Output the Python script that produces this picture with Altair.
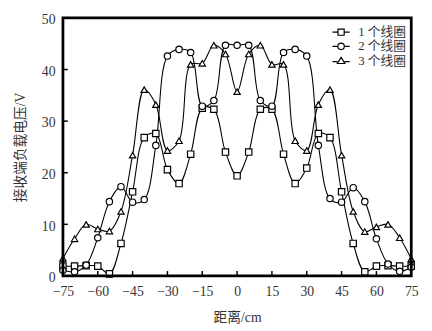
import altair as alt
import pandas as pd

x_pos = [-75, -70, -65, -60, -55, -50, -45, -40, -35, -30, -25, -20, -15, -10, -5, 0,
         5, 10, 15, 20, 25, 30, 35, 40, 45, 50, 55, 60, 65, 70, 75]
series_names = ["1 个线圈", "2 个线圈", "3 个线圈"]
s1 = [1.9, 1.9, 2.0, 1.9, 0.4, 6.3, 16.3, 26.8, 27.6, 20.6, 17.9, 23.6, 32.5, 32.3, 24.0, 19.4,
      24.0, 32.3, 32.3, 23.6, 17.9, 20.9, 27.6, 26.8, 16.3, 6.3, 0.8, 1.9, 2.0, 1.9, 1.9]
s2 = [1.1, 0.8, 2.1, 7.4, 14.4, 17.3, 14.3, 14.8, 25.3, 42.6, 43.9, 43.3, 32.9, 34.0, 44.7, 44.7,
      44.7, 34.0, 32.9, 43.3, 43.9, 42.6, 25.3, 15.0, 14.3, 17.1, 14.4, 7.2, 2.3, 0.9, 1.7]
s3 = [3.4, 7.2, 10.0, 9.1, 8.7, 12.5, 23.4, 36.1, 33.2, 24.3, 26.2, 41.0, 41.2, 44.7, 43.0, 35.7,
      43.0, 44.7, 41.0, 41.0, 26.2, 24.3, 33.2, 36.1, 23.4, 12.5, 8.6, 9.5, 10.0, 7.4, 3.3]
x_ticks = [-75, -60, -45, -30, -15, 0, 15, 30, 45, 60, 75]
y_ticks = [0, 10, 20, 30, 40, 50]
x_inner_ticks = [-60, -45, -30, -15, 0, 15, 30, 45, 60]
y_inner_ticks = [10, 20, 30, 40]

W, H = 355, 263
SERIF = "Liberation Serif, Noto Sans CJK SC"
TXT = "#333333"

df = pd.DataFrame({
    "x": x_pos * 3,
    "y": s1 + s2 + s3,
    "series": [series_names[0]] * len(s1) + [series_names[1]] * len(s2) + [series_names[2]] * len(s3),
})

xax = alt.Axis(values=x_ticks, title="距离/cm", ticks=False, domain=False, grid=False,
               labelFontSize=14, labelFont=SERIF, labelColor=TXT, labelPadding=9,
               titleFontSize=14, titleFont=SERIF, titleColor=TXT, titleFontWeight="normal",
               titlePadding=12, labelFlush=False)
yax = alt.Axis(values=y_ticks, title="接收端负载电压/V", ticks=False, domain=False, grid=False,
               labelFontSize=14, labelFont=SERIF, labelColor=TXT, labelPadding=8, labelOffset=2,
               titleFontSize=14, titleFont=SERIF, titleColor=TXT, titleFontWeight="normal",
               titlePadding=14, labelFlush=False)
xs = alt.Scale(domain=[-75, 75], nice=False, zero=False)
ys = alt.Scale(domain=[0, 50], nice=False)

X = alt.X("x:Q", scale=xs, axis=xax)
Y = alt.Y("y:Q", scale=ys, axis=yax)

base = alt.Chart(df)

lines = base.mark_line(interpolate="catmull-rom", color="black", strokeWidth=1.1).encode(
    x=X, y=Y, detail="series:N")

points = base.mark_point(filled=True, fill="white", stroke="black", strokeWidth=1.2,
                         size=42, opacity=1).encode(
    x=X, y=Y,
    shape=alt.Shape("series:N", scale=alt.Scale(domain=series_names,
                                                range=["square", "circle", "triangle-up"]),
                    legend=None))

legend_paths = [
    "M-2.5,0H-0.9M0.9,0H2.5M-0.9,-0.9H0.9V0.9H-0.9Z",
    "M-2.5,0H-0.95M0.95,0H2.5M-0.95,0A0.95,0.95 0 1,0 0.95,0A0.95,0.95 0 1,0 -0.95,0Z",
    "M-2.5,0.3H-1.05M1.05,0.3H2.5M0,-0.95L1.1,0.85L-1.1,0.85Z",
]
legend_layer = base.transform_filter("false").mark_point(filled=False).encode(
    x=X, y=Y,
    shape=alt.Shape("series:N", scale=alt.Scale(domain=series_names, range=legend_paths),
                    legend=alt.Legend(title=None, orient="none", legendX=277, legendY=8,
                                      symbolSize=49, symbolFillColor="white",
                                      symbolStrokeColor="black", symbolStrokeWidth=1.2,
                                      symbolOpacity=1, labelFont=SERIF, labelFontSize=13,
                                      labelColor=TXT, labelOffset=11, rowPadding=0.5)))

xt = alt.Chart(pd.DataFrame({"x": x_inner_ticks})).mark_rule(color="black", strokeWidth=1.5).encode(
    x=X, y=alt.value(H), y2=alt.value(H - 5))
yt = alt.Chart(pd.DataFrame({"y": y_inner_ticks})).mark_rule(color="black", strokeWidth=1.5).encode(
    y=Y, x=alt.value(0), x2=alt.value(5))

frame = alt.Chart(pd.DataFrame({"f": [0]})).mark_rect(
    fill=None, fillOpacity=0, stroke="black", strokeWidth=2.8).encode(
    x=alt.value(0), x2=alt.value(W), y=alt.value(0), y2=alt.value(H))

chart = alt.layer(lines, points, xt, yt, frame, legend_layer).resolve_scale(shape="independent").properties(
    width=W, height=H,
    autosize=alt.AutoSizeParams(type="none"),
    padding={"left": 56, "top": 7, "right": 13, "bottom": 52},
    background="white",
).configure_view(stroke=None)

chart.save("out.html", embed_options={"renderer": "svg", "actions": False})
